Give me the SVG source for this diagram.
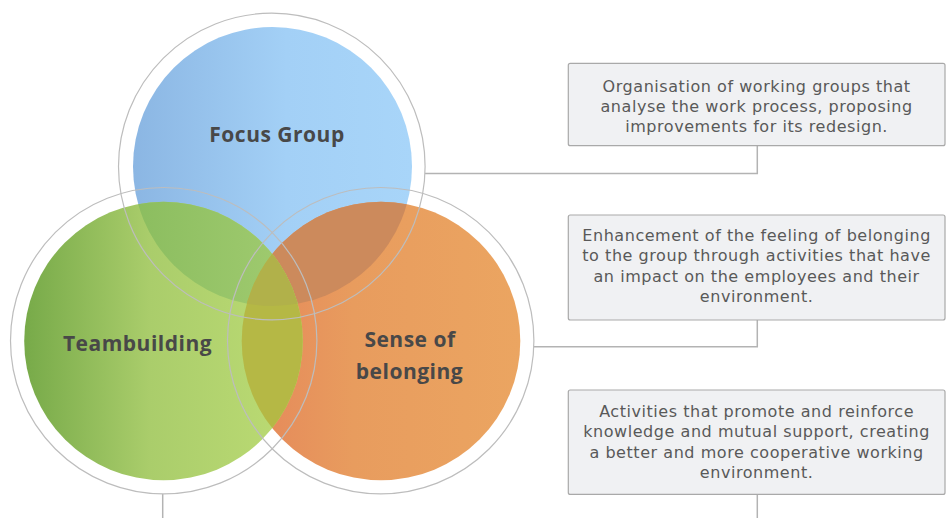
<svg xmlns="http://www.w3.org/2000/svg" width="952" height="518" viewBox="0 0 952 518">
<style>
.ring{fill:none;stroke:#bdbdbd;stroke-width:1.2}
.conn{fill:none;stroke:#b3b3b3;stroke-width:1.5}
.box{fill:#f0f1f3;stroke:#a9a9a9;stroke-width:1.2}
.lbl{font-family:"Open Sans","Liberation Sans",sans-serif;font-weight:bold;font-size:21px;letter-spacing:0.5px;fill:#484848;text-anchor:middle}
.desc{font-family:"DejaVu Sans","Open Sans",sans-serif;font-size:16px;letter-spacing:0.55px;fill:#595959;text-anchor:middle}
</style>
<defs>
<linearGradient id="gBlue" gradientUnits="userSpaceOnUse" x1="133" y1="0" x2="412" y2="0"><stop offset="0" stop-color="#8bb6e3"/><stop offset="0.55" stop-color="#a3d0f6"/><stop offset="1" stop-color="#a8d5f9"/></linearGradient>
<linearGradient id="gGreen" gradientUnits="userSpaceOnUse" x1="24" y1="0" x2="303" y2="0"><stop offset="0" stop-color="#77aa49"/><stop offset="0.45" stop-color="#aacd6b"/><stop offset="1" stop-color="#bddc74"/></linearGradient>
<linearGradient id="gOrange" gradientUnits="userSpaceOnUse" x1="242" y1="0" x2="520" y2="0"><stop offset="0" stop-color="#e5875a"/><stop offset="0.4" stop-color="#e89c5e"/><stop offset="1" stop-color="#eba561"/></linearGradient>
<linearGradient id="gBG" gradientUnits="userSpaceOnUse" x1="133" y1="0" x2="303" y2="0"><stop offset="0" stop-color="#8bbd5f"/><stop offset="1" stop-color="#a2cc71"/></linearGradient>
<clipPath id="cGreen"><circle cx="163.5" cy="341" r="139.3"/></clipPath>
<clipPath id="cOrange"><circle cx="381" cy="341" r="139.3"/></clipPath>
</defs>
<g id="fills">
<circle cx="272.5" cy="166.5" r="139.5" fill="url(#gBlue)"/>
<circle cx="381" cy="341" r="139.3" fill="url(#gOrange)"/>
<g clip-path="url(#cOrange)"><circle cx="272.5" cy="166.5" r="139.5" fill="#cc8a5c"/></g>
<circle cx="163.5" cy="341" r="139.3" fill="url(#gGreen)"/>
<g clip-path="url(#cGreen)"><circle cx="272.5" cy="166.5" r="139.5" fill="url(#gBG)"/></g>
<g clip-path="url(#cGreen)"><circle cx="381" cy="341" r="139.3" fill="#b5b845"/></g>
<g clip-path="url(#cGreen)"><g clip-path="url(#cOrange)"><circle cx="272.5" cy="166.5" r="139.5" fill="#b1b14a"/></g></g>
</g>
<g id="connectors">
<path class="conn" d="M425,173.5 H757.3 V146"/>
<path class="conn" d="M534,346.7 H757.3 V320"/>
<path class="conn" d="M757.3,494.5 V518"/>
<path class="conn" d="M162.7,494 V518"/>
</g>
<g id="focus-group">
<circle class="ring" cx="271.8" cy="166.5" r="153.3"/>
<text class="lbl" x="277" y="142">Focus Group</text>
</g>
<g id="teambuilding">
<circle class="ring" cx="163.7" cy="340.7" r="153.2"/>
<text class="lbl" x="137.5" y="350.5">Teambuilding</text>
</g>
<g id="sense-of-belonging">
<circle class="ring" cx="380.7" cy="340.7" r="153.2"/>
<text class="lbl" x="410" y="346.5">Sense of</text>
<text class="lbl" x="409.5" y="378.5">belonging</text>
</g>
<g id="desc-focus">
<rect class="box" x="568.3" y="63.3" width="376.7" height="82.4" rx="2"/>
<text class="desc" x="756.6" y="91.5">Organisation of working groups that</text>
<text class="desc" x="756.6" y="111.7">analyse the work process, proposing</text>
<text class="desc" x="756.6" y="131.9">improvements for its redesign.</text>
</g>
<g id="desc-belonging">
<rect class="box" x="568.3" y="215" width="376.7" height="105" rx="2"/>
<text class="desc" x="756.6" y="240.5">Enhancement of the feeling of belonging</text>
<text class="desc" x="756.6" y="261">to the group through activities that have</text>
<text class="desc" x="756.6" y="281.5">an impact on the employees and their</text>
<text class="desc" x="756.6" y="302">environment.</text>
</g>
<g id="desc-teambuilding">
<rect class="box" x="568.3" y="390" width="376.7" height="104.4" rx="2"/>
<text class="desc" x="756.6" y="416.7">Activities that promote and reinforce</text>
<text class="desc" x="756.6" y="437.2">knowledge and mutual support, creating</text>
<text class="desc" x="756.6" y="457.7">a better and more cooperative working</text>
<text class="desc" x="756.6" y="478.2">environment.</text>
</g>
</svg>
